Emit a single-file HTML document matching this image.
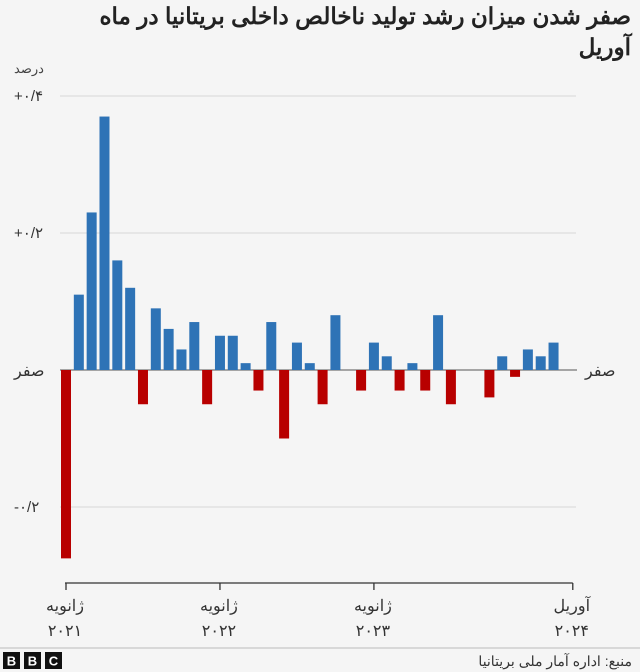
<!DOCTYPE html>
<html><head><meta charset="utf-8">
<style>
body{margin:0;background:#f5f5f5;}
svg{display:block;font-family:"Liberation Sans","Noto Sans CJK SC",sans-serif;}
</style></head>
<body>
<svg id="chart" width="640" height="672" viewBox="0 0 640 672" xmlns="http://www.w3.org/2000/svg">
<rect width="640" height="672" fill="#f5f5f5"/>
<text x="631" y="24" text-anchor="end" font-size="23" font-weight="bold" fill="#222">صفر شدن میزان رشد تولید ناخالص داخلی بریتانیا در ماه</text>
<text x="631" y="55" text-anchor="end" font-size="23" font-weight="bold" fill="#222">آوریل</text>
<text x="14" y="73" font-size="13" fill="#444" text-anchor="start">درصد</text>
<g id="grid"></g>
<g id="bars"></g>
<g id="xaxis"></g>
<line x1="0" y1="648" x2="640" y2="648" stroke="#bbb" stroke-width="1"/>
<g>
<rect x="3" y="652" width="17" height="17" fill="#111"/><text x="11.5" y="665.5" text-anchor="middle" font-size="13" font-weight="bold" fill="#fff">B</text>
<rect x="24" y="652" width="17" height="17" fill="#111"/><text x="32.5" y="665.5" text-anchor="middle" font-size="13" font-weight="bold" fill="#fff">B</text>
<rect x="45" y="652" width="17" height="17" fill="#111"/><text x="53.5" y="665.5" text-anchor="middle" font-size="13" font-weight="bold" fill="#fff">C</text>
</g>
<text x="632" y="666" text-anchor="end" font-size="14" fill="#333">منبع: اداره آمار ملی بریتانیا</text>
</svg>
<script>
const months = ["2021-01","2021-02","2021-03","2021-04","2021-05","2021-06","2021-07","2021-08","2021-09","2021-10","2021-11","2021-12","2022-01","2022-02","2022-03","2022-04","2022-05","2022-06","2022-07","2022-08","2022-09","2022-10","2022-11","2022-12","2023-01","2023-02","2023-03","2023-04","2023-05","2023-06","2023-07","2023-08","2023-09","2023-10","2023-11","2023-12","2024-01","2024-02","2024-03","2024-04"];
const growth = [-0.275,0.11,0.23,0.37,0.16,0.12,-0.05,0.09,0.06,0.03,0.07,-0.05,0.05,0.05,0.01,-0.03,0.07,-0.1,0.04,0.01,-0.05,0.08,0,-0.03,0.04,0.02,-0.03,0.01,-0.03,0.08,-0.05,0,0,-0.04,0.02,-0.01,0.03,0.02,0.04,0];
const yTicks = [0.4,0.2,-0.2];
const yTickLabels = ["+۰/۴","+۰/۲","-۰/۲"];
const xTickIdx = [0,12,24,39.5];
const xTickLine1 = ["ژانویه","ژانویه","ژانویه","آوریل"];
const xTickLine2 = ["۲۰۲۱","۲۰۲۲","۲۰۲۳","۲۰۲۴"];

const NS="http://www.w3.org/2000/svg";
const y = v => 370 - v*685;
const x = i => 66 + i*12.83;
function mk(tag, attrs, parent, txt){const e=document.createElementNS(NS,tag);for(const k in attrs)e.setAttribute(k,attrs[k]);if(txt!==undefined)e.textContent=txt;parent.appendChild(e);return e;}
const grid=document.getElementById('grid'), bars=document.getElementById('bars'), xa=document.getElementById('xaxis');
yTicks.forEach((t,k)=>{
  const l=mk('line',{x1:60,x2:576,y1:y(t),y2:y(t),stroke:'#d6d6d6','stroke-width':1},grid);
  
  
  const tx=mk('text',{x:14,y:y(t)+5,'font-size':15,fill:'#333'},grid,yTickLabels[k]);
  
  
});
growth.forEach((v,i)=>{
  const top=Math.min(y(v),y(0)), h=Math.abs(y(v)-y(0));
  const r=mk('rect',{x:x(i)-5,y:top,width:10,height:h,fill:v>=0?'#2e73b6':'#b80000'},bars);
  
  
});
const z=mk('line',{x1:60,x2:577,y1:y(0),y2:y(0),stroke:'#555','stroke-width':1},grid);


const zl=mk('text',{x:14,y:y(0)+6,'font-size':16,fill:'#333'},grid,'صفر');


const zr=mk('text',{x:585,y:y(0)+6,'font-size':16,fill:'#333'},grid,'صفر');


const ax=mk('line',{x1:x(0)-1,x2:x(39.5),y1:583,y2:583,stroke:'#333','stroke-width':1.3},xa);


xTickIdx.forEach((idx,k)=>{
  const t=mk('line',{x1:x(idx),x2:x(idx),y1:583,y2:590,stroke:'#333','stroke-width':1.3},xa);
  
  
  const a=mk('text',{x:x(idx)-1,y:611,'text-anchor':'middle','font-size':16,fill:'#333'},xa,xTickLine1[k]);
  
  
  const b=mk('text',{x:x(idx)-1,y:636,'text-anchor':'middle','font-size':16,fill:'#333'},xa,xTickLine2[k]);
  
  
});
</script>
</body></html>
